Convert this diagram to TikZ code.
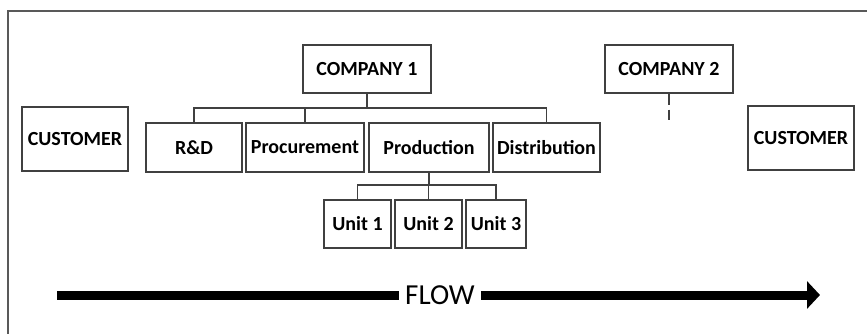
\documentclass[tikz,border=0pt]{standalone}
\usepackage{fontspec}
\setmainfont{Carlito}
\usetikzlibrary{arrows.meta}

\begin{document}
\begin{tikzpicture}[
  x=1pt, y=-1pt,
  box/.style={
    draw=black!75, line width=1.3pt, inner sep=0pt,
    minimum height=49pt, align=center,
    font=\fontsize{20}{23}\selectfont\bfseries
  },
  link/.style={draw=black!75, line width=1.3pt},
  flowbar/.style={line width=9pt},
]
\useasboundingbox (0,0) rectangle (867,334);

% Outer frame
\draw[black!65, line width=1.5pt] (8,334) -- (8,11) -- (867,11);

% Customers on both ends
\node[box, minimum width=106pt, minimum height=64pt] (custa) at (75,139) {CUSTOMER};
\node[box, minimum width=106pt, minimum height=64pt] (custb) at (801,138) {CUSTOMER};

% Companies
\node[box, minimum width=128pt, minimum height=48pt] (coma) at (367,69) {COMPANY 1};
\node[box, minimum width=128pt, minimum height=48pt] (comb) at (669,69) {COMPANY 2};

% Departments of company 1
\node[box, minimum width=96pt] (rnd) at (194,147.5) {R\&D};
\node[box, minimum width=118pt] (proc) at (305,147.5) {Procurement};
\node[box, minimum width=120pt] (prod) at (429,147.5) {Production};
\node[box, minimum width=107pt] (dist) at (546.5,147.5) {Distribution};

% Production units
\node[box, minimum width=67pt, minimum height=48pt] (unita) at (357.5,224) {Unit 1};
\node[box, minimum width=67pt, minimum height=48pt] (unitb) at (428.5,224) {Unit 2};
\node[box, minimum width=60pt, minimum height=48pt] (unitc) at (496,224) {Unit 3};

% Tree lines
\coordinate (busa) at (0,108);
\coordinate (busb) at (0,185);
\draw[link] (coma.south) -- (coma.south |- busa);
\draw[link] (rnd.north) -- (rnd.north |- busa) -- (dist.north |- busa) -- (dist.north);
\draw[link] (proc.north) -- (proc.north |- busa);
\draw[link] (prod.south) -- (prod.south |- busb);
\draw[link] (unita.north) -- (unita.north |- busb) -- (unitc.north |- busb) -- (unitc.north);
\draw[link] (unitb.north) -- (unitb.north |- busb);
\coordinate (combend) at (669,120);
\draw[link, dash pattern=on 11pt off 5pt] (comb.south) -- (combend);

% Flow arrow
\node[font=\fontsize{29}{32}\selectfont, inner xsep=6pt, inner ysep=0pt] (flow) at (440,295) {FLOW};
\coordinate (flowstart) at (57,295);
\coordinate (flowend) at (820,295);
\draw[flowbar] (flowstart) -- (flow.west);
\draw[flowbar, -{Triangle[length=13pt, width=27pt]}] (flow.east) -- (flowend);

\end{tikzpicture}
\end{document}
